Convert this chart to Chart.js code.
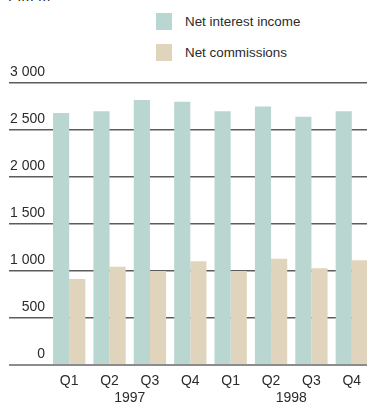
<!DOCTYPE html>
<html>
<head>
<meta charset="utf-8">
<script src="https://cdn.jsdelivr.net/npm/chart.js@4"></script>
<style>
  html, body { margin: 0; padding: 0; background: #fff; overflow: hidden; }
  body { width: 367px; height: 403px; position: relative; font-family: "Liberation Sans", Arial, sans-serif; color: #2b2b2b; }
  #unit { position: absolute; left: 8px; top: -13px; font-size: 15px; }
  #legend { position: absolute; left: 156px; top: 13px; font-size: 13.4px; }
  .item { display: flex; align-items: center; height: 17px; margin-bottom: 14px; }
  .swatch { width: 16px; height: 17px; margin-right: 13px; }
  #wrap { position: absolute; left: 0; top: 0; width: 372px; height: 403px; }
</style>
</head>
<body>
<div id="unit">FIM M</div>
<div id="legend"></div>
<div id="wrap"><canvas id="chart"></canvas></div>
<script>
const quarters = ['Q1', 'Q2', 'Q3', 'Q4', 'Q1', 'Q2', 'Q3', 'Q4'];
const years = ['1997', '1998'];
const seriesNames = ['Net interest income', 'Net commissions'];
const netInterest = [2680, 2700, 2820, 2800, 2700, 2750, 2640, 2700];
const netCommissions = [915, 1045, 1000, 1105, 1000, 1130, 1030, 1115];
const colors = ['#b9d6d0', '#e0d4bc'];

// legend stacked vertically above the plot
const legend = document.getElementById('legend');
seriesNames.forEach((name, i) => {
    const row = document.createElement('div');
    row.className = 'item';
    row.innerHTML = `<span class="swatch" style="background:${colors[i]}"></span>${name}`;
    legend.appendChild(row);
});

// year captions centred under each group of four quarters
const yearLabels = {
    id: 'yearLabels',
    afterDraw(chart) {
        const x = chart.scales.x;
        const ctx = chart.ctx;
        ctx.save();
        ctx.font = '14px "Liberation Sans", Arial, sans-serif';
        ctx.fillStyle = '#2b2b2b';
        ctx.textAlign = 'center';
        ctx.textBaseline = 'middle';
        years.forEach((y, i) => {
            const mid = (x.getPixelForValue(i * 4 + 1) + x.getPixelForValue(i * 4 + 2)) / 2;
            ctx.fillText(y, mid, 398);
        });
        ctx.restore();
    }
};

new Chart(document.getElementById('chart'), {
    type: 'bar',
    data: {
        labels: quarters,
        datasets: [
            { label: seriesNames[0], data: netInterest, backgroundColor: colors[0] },
            { label: seriesNames[1], data: netCommissions, backgroundColor: colors[1] }
        ]
    },
    options: {
        responsive: true,
        maintainAspectRatio: false,
        animation: false,
        datasets: { bar: { barPercentage: 1, categoryPercentage: 0.8 } },
        layout: { padding: { left: 9, top: 83, right: 0, bottom: 0 } },
        plugins: { legend: { display: false }, tooltip: { enabled: false } },
        scales: {
            x: {
                grid: { display: false },
                border: { display: false },
                ticks: { color: '#2b2b2b', font: { size: 14, family: '"Liberation Sans", Arial, sans-serif' }, padding: 0 },
                afterFit: s => { s.height = 38; }
            },
            y: {
                min: 0,
                max: 3000,
                border: { display: false },
                grid: {
                    color: c => c.tick && c.tick.value === 0 ? '#8c8c8c' : '#5c5c5c',
                    lineWidth: c => c.tick && c.tick.value === 0 ? 2 : 1.5,
                    tickLength: 40
                },
                ticks: {
                    stepSize: 500,
                    padding: -36,
                    labelOffset: -11,
                    color: '#2b2b2b',
                    font: { size: 14, family: '"Liberation Sans", Arial, sans-serif' },
                    callback: v => String(v).replace(/\B(?=(\d{3})+(?!\d))/g, ' ')
                },
                afterFit: s => { s.width = 40; }
            }
        }
    },
    plugins: [yearLabels]
});
</script>
</body>
</html>
